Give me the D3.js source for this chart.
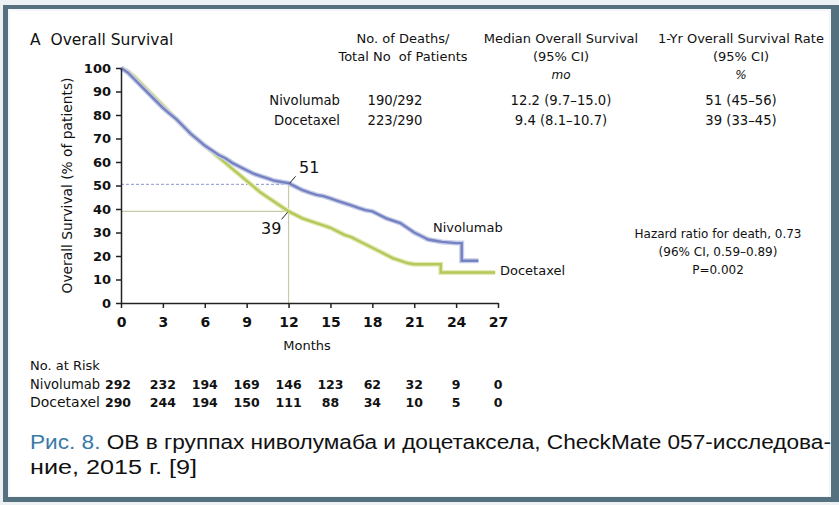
<!DOCTYPE html>
<html><head><meta charset="utf-8">
<script src="https://cdn.jsdelivr.net/npm/d3@7"></script>
<style>
html,body{margin:0;padding:0;background:#fff;}
svg{display:block;font-family:"DejaVu Sans",sans-serif;}
svg text{white-space:pre;}
</style></head>
<body>
<svg id="c" width="839" height="505"></svg>
<script>
// ---- data ----
const monthTicks = [0,3,6,9,12,15,18,21,24,27];
const survTicks = [0,10,20,30,40,50,60,70,80,90,100];
const nivoTimes = [0,0.5,1,1.5,2,2.5,3,3.5,4,4.5,5,5.5,6,6.5,7,7.5,8,8.5,9,9.5,10,10.5,11,11.5,12,12.5,13,13.5,14,14.5,15,15.5,16,16.5,17,17.5,18,18.5,19,19.5,20,20.5,21,21.5,22,22.5,23,24,24.4,24.4,25.6];
const nivoSurv  = [100,98,95,92,89,86,83,80.5,78,75,72,69.5,67,65,63,61.5,59.5,58,56.5,55,54,53,52,51.5,51,49.5,48,47,46,45.5,44.5,43.5,42.5,41.5,40.5,39.5,39,37.5,36,35,34,32,30,28.5,27,26.5,26,25.5,25.5,18,18];
const doceTimes = [0,0.5,1,1.5,2,2.5,3,3.5,4,4.5,5,5.5,6,6.5,7,7.5,8,8.5,9,9.5,10,10.5,11,11.5,12,12.5,13,13.5,14,14.5,15,15.5,16,16.5,17,17.5,18,18.5,19,19.5,20,20.5,21,22,22.9,22.9,26.8];
const doceSurv  = [100,98.5,96,93,90,87,84,81,78,75,72,69.5,67,64.5,62,59.5,57,54.5,52,49.5,47,45,43,41,39,37.5,36,35,34,33,32,30.5,29,28,26.5,25,23.5,22,20.5,19,18,17,16.5,16.5,16.5,13,13];
const groups = ["Nivolumab","Docetaxel"];
const deaths = ["190/292","223/290"];
const medianOS = ["12.2 (9.7–15.0)","9.4 (8.1–10.7)"];
const oneYear = ["51 (45–56)","39 (33–45)"];
const atRiskNivo = [292,232,194,169,146,123,62,32,9,0];
const atRiskDoce = [290,244,194,150,111,88,34,10,5,0];
const landmark = {month:12, nivo:50.5, doce:39, nivoLabel:"51", doceLabel:"39"};

const svg = d3.select("#c");
const W = 839, H = 505;

// frame
svg.append("rect").attr("x",0).attr("y",0).attr("width",W).attr("height",H).attr("fill","#eef1f3");
svg.append("rect").attr("x",3).attr("y",5).attr("width",W-3).attr("height",H-8).attr("fill","#55707e");
svg.append("rect").attr("x",8).attr("y",9).attr("width",823).attr("height",488).attr("fill","#f3f7fa");
svg.append("rect").attr("x",10).attr("y",11).attr("width",819).attr("height",485).attr("fill","#ffffff");

const x = d3.scaleLinear().domain([0,27]).range([121,498]);
const y = d3.scaleLinear().domain([0,100]).range([303,68]);

// reference lines
svg.append("line").attr("x1",x(0)).attr("x2",x(landmark.month)).attr("y1",y(landmark.nivo)).attr("y2",y(landmark.nivo))
  .attr("stroke","#8a93c8").attr("stroke-width",1).attr("stroke-dasharray","3,2");
svg.append("line").attr("x1",x(0)).attr("x2",x(landmark.month)).attr("y1",y(landmark.doce)).attr("y2",y(landmark.doce))
  .attr("stroke","#c9caa6").attr("stroke-width",1.2);
svg.append("line").attr("x1",x(landmark.month)).attr("x2",x(landmark.month)).attr("y1",y(landmark.nivo)).attr("y2",y(0))
  .attr("stroke","#c9caa6").attr("stroke-width",1.2);

// curves
const line = d3.line().x(d=>x(d[0])).y(d=>y(d[1])).curve(d3.curveLinear);
const doceData = doceTimes.map((t,i)=>[t,doceSurv[i]]);
const nivoData = nivoTimes.map((t,i)=>[t,nivoSurv[i]]);
svg.append("path").attr("d",line(doceData)).attr("fill","none").attr("stroke","#e2eab8").attr("stroke-width",5);
svg.append("path").attr("d",line(doceData)).attr("fill","none").attr("stroke","#b5c95a").attr("stroke-width",2.4);
svg.append("path").attr("d",line(nivoData)).attr("fill","none").attr("stroke","#c8cde8").attr("stroke-width",5);
svg.append("path").attr("d",line(nivoData)).attr("fill","none").attr("stroke","#7482c2").attr("stroke-width",2.4);

// axes
const gy = svg.append("g").attr("transform",`translate(${x(0)},0)`)
  .call(d3.axisLeft(y).tickValues(survTicks).tickSize(5).tickSizeOuter(0).tickPadding(5));
const gx = svg.append("g").attr("transform",`translate(0,${y(0)})`)
  .call(d3.axisBottom(x).tickValues(monthTicks).tickSize(5).tickSizeOuter(0).tickPadding(9));
[gy,gx].forEach(g=>{
  g.attr("font-family",null);
  g.select(".domain").attr("stroke","#222").attr("stroke-width",1.5);
  g.selectAll(".tick line").attr("stroke","#222").attr("stroke-width",1.5);
  g.selectAll(".tick text").style("font-family","DejaVu Sans").style("font-size","13px").style("font-weight","bold").attr("fill","#111");
});
gx.selectAll(".tick text").style("font-size","14px");

function T(xx,yy,str,size,anchor){
  return svg.append("text").attr("x",xx).attr("y",yy).attr("text-anchor",anchor||"start")
    .style("font-family","DejaVu Sans").style("font-size",size+"px").attr("fill","#111").text(str);
}

// axis titles
svg.append("text").attr("transform",`translate(72,${(y(0)+y(100))/2}) rotate(-90)`).attr("text-anchor","middle")
  .style("font-size","13.8px").attr("fill","#111").text("Overall Survival (% of patients)");
T(307,350,"Months",13,"middle");

// landmark labels
T(299,173,landmark.nivoLabel,16);
svg.append("line").attr("x1",x(12)+1).attr("y1",y(landmark.nivo)-1).attr("x2",x(12)+7).attr("y2",y(landmark.nivo)-8).attr("stroke","#222").attr("stroke-width",1);
T(261,234,landmark.doceLabel,16);
svg.append("line").attr("x1",x(12)-1).attr("y1",y(landmark.doce)+1).attr("x2",x(12)-7).attr("y2",y(landmark.doce)+8).attr("stroke","#222").attr("stroke-width",1);

// curve labels
T(433,232,groups[0],13);
T(500,275,groups[1],13);

// title
T(30,45,"A  Overall Survival",15.5);

// header table
const hdr = [
  {cx:403, lines:["No. of Deaths/","Total No  of Patients"]},
  {cx:561, lines:["Median Overall Survival","(95% CI)"], unit:"mo"},
  {cx:741, lines:["1-Yr Overall Survival Rate","(95% CI)"], unit:"%"}
];
hdr.forEach(h=>{
  h.lines.forEach((t,i)=>T(h.cx,43+i*18,t,13,"middle"));
  if(h.unit) T(h.cx,79,h.unit,12,"middle").style("font-style","italic");
});
groups.forEach((g,i)=>{
  const yy = 105+i*20;
  T(340,yy,g,13.2,"end");
  T(395,yy,deaths[i],13.2,"middle");
  T(561,yy,medianOS[i],13.2,"middle");
  T(741,yy,oneYear[i],13.2,"middle");
});

// hazard
["Hazard ratio for death, 0.73","(96% CI, 0.59–0.89)","P=0.002"].forEach((t,i)=>T(718,238+i*18,t,12,"middle"));

// at risk table
T(30,370,"No. at Risk",13);
[[groups[0],atRiskNivo],[groups[1],atRiskDoce]].forEach(([g,vals],i)=>{
  const yy = 389+i*18;
  T(30,yy,g,13.2).attr("textLength",70).attr("lengthAdjust","spacingAndGlyphs");
  vals.forEach((v,j)=>T(x(monthTicks[j])-(j===0?3:0),yy,v,12.5,"middle").style("font-weight","bold"));
});

// caption
const capFont = "'Liberation Sans', Arial, sans-serif";
const cap1 = svg.append("text").attr("x",30).attr("y",449).style("font-family",capFont).style("font-size","19.5px")
  .attr("textLength",801).attr("lengthAdjust","spacingAndGlyphs");
cap1.append("tspan").attr("fill","#3a7aa8").text("Рис. 8. ");
cap1.append("tspan").attr("fill","#111").text("ОВ в группах ниволумаба и доцетаксела, CheckMate 057-исследова-");
svg.append("text").attr("x",30).attr("y",474).style("font-family",capFont).style("font-size","19.5px").attr("fill","#111")
  .attr("textLength",167).attr("lengthAdjust","spacingAndGlyphs").text("ние, 2015 г. [9]");
</script>
</body></html>
